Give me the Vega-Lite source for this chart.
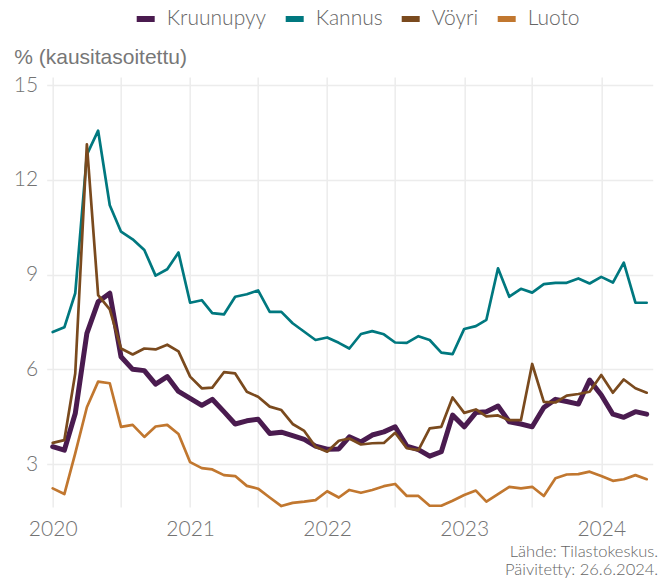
{
  "$schema": "https://vega.github.io/schema/vega-lite/v6.json",
  "width": 606,
  "height": 430,
  "autosize": "none",
  "padding": {"left": 46.7, "top": 77, "right": 14.3, "bottom": 72},
  "background": "white",
  "data": {"values": [
    {"d": "2020-01-01", "Kruunupyy": 3.55, "Kannus": 7.18, "Vöyri": 3.67, "Luoto": 2.23},
    {"d": "2020-02-01", "Kruunupyy": 3.44, "Kannus": 7.33, "Vöyri": 3.76, "Luoto": 2.05},
    {"d": "2020-03-01", "Kruunupyy": 4.6, "Kannus": 8.41, "Vöyri": 5.87, "Luoto": 3.34},
    {"d": "2020-04-01", "Kruunupyy": 7.14, "Kannus": 12.8, "Vöyri": 13.13, "Luoto": 4.8},
    {"d": "2020-05-01", "Kruunupyy": 8.14, "Kannus": 13.56, "Vöyri": 8.35, "Luoto": 5.61},
    {"d": "2020-06-01", "Kruunupyy": 8.41, "Kannus": 11.2, "Vöyri": 7.9, "Luoto": 5.56},
    {"d": "2020-07-01", "Kruunupyy": 6.4, "Kannus": 10.36, "Vöyri": 6.66, "Luoto": 4.18},
    {"d": "2020-08-01", "Kruunupyy": 6.0, "Kannus": 10.12, "Vöyri": 6.47, "Luoto": 4.24},
    {"d": "2020-09-01", "Kruunupyy": 5.96, "Kannus": 9.78, "Vöyri": 6.66, "Luoto": 3.86},
    {"d": "2020-10-01", "Kruunupyy": 5.53, "Kannus": 8.97, "Vöyri": 6.63, "Luoto": 4.19},
    {"d": "2020-11-01", "Kruunupyy": 5.77, "Kannus": 9.17, "Vöyri": 6.78, "Luoto": 4.24},
    {"d": "2020-12-01", "Kruunupyy": 5.3, "Kannus": 9.7, "Vöyri": 6.57, "Luoto": 3.95},
    {"d": "2021-01-01", "Kruunupyy": 5.08, "Kannus": 8.11, "Vöyri": 5.77, "Luoto": 3.06},
    {"d": "2021-02-01", "Kruunupyy": 4.86, "Kannus": 8.19, "Vöyri": 5.4, "Luoto": 2.87},
    {"d": "2021-03-01", "Kruunupyy": 5.05, "Kannus": 7.78, "Vöyri": 5.42, "Luoto": 2.83},
    {"d": "2021-04-01", "Kruunupyy": 4.66, "Kannus": 7.74, "Vöyri": 5.91, "Luoto": 2.65},
    {"d": "2021-05-01", "Kruunupyy": 4.27, "Kannus": 8.3, "Vöyri": 5.87, "Luoto": 2.62},
    {"d": "2021-06-01", "Kruunupyy": 4.37, "Kannus": 8.38, "Vöyri": 5.29, "Luoto": 2.31},
    {"d": "2021-07-01", "Kruunupyy": 4.42, "Kannus": 8.5, "Vöyri": 5.13, "Luoto": 2.22},
    {"d": "2021-08-01", "Kruunupyy": 3.97, "Kannus": 7.82, "Vöyri": 4.82, "Luoto": 1.94},
    {"d": "2021-09-01", "Kruunupyy": 4.01, "Kannus": 7.82, "Vöyri": 4.71, "Luoto": 1.67},
    {"d": "2021-10-01", "Kruunupyy": 3.9, "Kannus": 7.46, "Vöyri": 4.27, "Luoto": 1.77},
    {"d": "2021-11-01", "Kruunupyy": 3.78, "Kannus": 7.19, "Vöyri": 4.05, "Luoto": 1.81},
    {"d": "2021-12-01", "Kruunupyy": 3.57, "Kannus": 6.93, "Vöyri": 3.55, "Luoto": 1.86},
    {"d": "2022-01-01", "Kruunupyy": 3.47, "Kannus": 7.01, "Vöyri": 3.39, "Luoto": 2.14},
    {"d": "2022-02-01", "Kruunupyy": 3.48, "Kannus": 6.84, "Vöyri": 3.74, "Luoto": 1.94},
    {"d": "2022-03-01", "Kruunupyy": 3.86, "Kannus": 6.66, "Vöyri": 3.81, "Luoto": 2.18},
    {"d": "2022-04-01", "Kruunupyy": 3.7, "Kannus": 7.12, "Vöyri": 3.62, "Luoto": 2.09},
    {"d": "2022-05-01", "Kruunupyy": 3.92, "Kannus": 7.21, "Vöyri": 3.66, "Luoto": 2.18},
    {"d": "2022-06-01", "Kruunupyy": 4.02, "Kannus": 7.11, "Vöyri": 3.67, "Luoto": 2.3},
    {"d": "2022-07-01", "Kruunupyy": 4.18, "Kannus": 6.85, "Vöyri": 3.99, "Luoto": 2.37},
    {"d": "2022-08-01", "Kruunupyy": 3.57, "Kannus": 6.84, "Vöyri": 3.5, "Luoto": 1.99},
    {"d": "2022-09-01", "Kruunupyy": 3.46, "Kannus": 7.05, "Vöyri": 3.44, "Luoto": 1.99},
    {"d": "2022-10-01", "Kruunupyy": 3.25, "Kannus": 6.93, "Vöyri": 4.13, "Luoto": 1.68},
    {"d": "2022-11-01", "Kruunupyy": 3.39, "Kannus": 6.53, "Vöyri": 4.18, "Luoto": 1.68},
    {"d": "2022-12-01", "Kruunupyy": 4.55, "Kannus": 6.48, "Vöyri": 5.11, "Luoto": 1.84},
    {"d": "2023-01-01", "Kruunupyy": 4.18, "Kannus": 7.28, "Vöyri": 4.62, "Luoto": 2.02},
    {"d": "2023-02-01", "Kruunupyy": 4.63, "Kannus": 7.37, "Vöyri": 4.73, "Luoto": 2.16},
    {"d": "2023-03-01", "Kruunupyy": 4.66, "Kannus": 7.57, "Vöyri": 4.51, "Luoto": 1.81},
    {"d": "2023-04-01", "Kruunupyy": 4.84, "Kannus": 9.2, "Vöyri": 4.54, "Luoto": 2.05},
    {"d": "2023-05-01", "Kruunupyy": 4.34, "Kannus": 8.3, "Vöyri": 4.39, "Luoto": 2.28},
    {"d": "2023-06-01", "Kruunupyy": 4.27, "Kannus": 8.55, "Vöyri": 4.39, "Luoto": 2.23},
    {"d": "2023-07-01", "Kruunupyy": 4.18, "Kannus": 8.43, "Vöyri": 6.17, "Luoto": 2.28},
    {"d": "2023-08-01", "Kruunupyy": 4.79, "Kannus": 8.7, "Vöyri": 4.97, "Luoto": 1.99},
    {"d": "2023-09-01", "Kruunupyy": 5.05, "Kannus": 8.74, "Vöyri": 4.95, "Luoto": 2.55},
    {"d": "2023-10-01", "Kruunupyy": 4.98, "Kannus": 8.74, "Vöyri": 5.17, "Luoto": 2.67},
    {"d": "2023-11-01", "Kruunupyy": 4.9, "Kannus": 8.88, "Vöyri": 5.22, "Luoto": 2.68},
    {"d": "2023-12-01", "Kruunupyy": 5.66, "Kannus": 8.72, "Vöyri": 5.29, "Luoto": 2.76},
    {"d": "2024-01-01", "Kruunupyy": 5.19, "Kannus": 8.93, "Vöyri": 5.82, "Luoto": 2.62},
    {"d": "2024-02-01", "Kruunupyy": 4.58, "Kannus": 8.75, "Vöyri": 5.26, "Luoto": 2.47},
    {"d": "2024-03-01", "Kruunupyy": 4.48, "Kannus": 9.38, "Vöyri": 5.68, "Luoto": 2.52},
    {"d": "2024-04-01", "Kruunupyy": 4.66, "Kannus": 8.11, "Vöyri": 5.4, "Luoto": 2.65},
    {"d": "2024-05-01", "Kruunupyy": 4.58, "Kannus": 8.11, "Vöyri": 5.26, "Luoto": 2.52}
  ]},
  "transform": [{"fold": ["Kruunupyy", "Kannus", "Vöyri", "Luoto"], "as": ["s", "v"]}],
  "mark": {"type": "line", "strokeJoin": "round", "strokeCap": "round"},
  "encoding": {
    "x": {
      "field": "d", "type": "temporal",
      "scale": {"type": "utc", "domain": [{"year": 2019, "month": 12, "date": 16, "utc": true}, {"year": 2024, "month": 5, "date": 17, "utc": true}]},
      "axis": {
        "values": [
          {"year": 2020, "month": 1, "date": 1, "utc": true},
          {"year": 2020, "month": 7, "date": 1, "utc": true},
          {"year": 2021, "month": 1, "date": 1, "utc": true},
          {"year": 2021, "month": 7, "date": 1, "utc": true},
          {"year": 2022, "month": 1, "date": 1, "utc": true},
          {"year": 2022, "month": 7, "date": 1, "utc": true},
          {"year": 2023, "month": 1, "date": 1, "utc": true},
          {"year": 2023, "month": 7, "date": 1, "utc": true},
          {"year": 2024, "month": 1, "date": 1, "utc": true}
        ],
        "labelExpr": "utcmonth(datum.value) == 0 ? utcFormat(datum.value, '%Y') : ''",
        "grid": true, "gridColor": "#ececec", "gridWidth": 1.5,
        "ticks": false, "domain": false,
        "labelFont": "Lato", "labelFontSize": 21, "labelFontWeight": 300, "labelColor": "#737373", "labelPadding": 11,
        "title": ["Lähde: Tilastokeskus.", "Päivitetty: 26.6.2024."],
        "titleFont": "Lato", "titleFontSize": 16.5, "titleFontWeight": 300, "titleColor": "#666666",
        "titleAlign": "right", "titleBaseline": "alphabetic", "titleLineHeight": 18.5,
        "titleX": 611, "titleY": 49
      }
    },
    "y": {
      "field": "v", "type": "quantitative",
      "scale": {"domain": [1.64, 15.26], "nice": false, "zero": false},
      "axis": {
        "values": [3, 6, 9, 12, 15],
        "grid": true, "gridColor": "#ececec", "gridWidth": 1.5,
        "ticks": false, "domain": false,
        "labelFont": "Lato", "labelFontSize": 21, "labelFontWeight": 300, "labelColor": "#737373", "labelPadding": 9,
        "title": "% (kausitasoitettu)",
        "titleFont": "Liberation Sans", "titleFontSize": 21, "titleFontWeight": "normal", "titleColor": "#777777",
        "titleAngle": 0, "titleAlign": "left", "titleBaseline": "middle",
        "titleX": -33, "titleY": -20
      }
    },
    "color": {
      "field": "s", "type": "nominal",
      "scale": {"domain": ["Kruunupyy", "Kannus", "Vöyri", "Luoto"], "range": ["#4a1b4f", "#00787f", "#7a4a1e", "#c1772f"]},
      "legend": {
        "orient": "none", "legendX": 87, "legendY": -70, "direction": "horizontal",
        "title": null, "symbolType": "stroke", "symbolStrokeWidth": 6, "symbolSize": 324,
        "labelFont": "Lato", "labelFontSize": 21, "labelFontWeight": 300, "labelColor": "#666666",
        "labelOffset": 9, "columnPadding": 7
      }
    },
    "strokeWidth": {"condition": {"test": "datum.s === 'Kruunupyy'", "value": 5}, "value": 2.7}
  },
  "config": {"view": {"stroke": null}}
}
